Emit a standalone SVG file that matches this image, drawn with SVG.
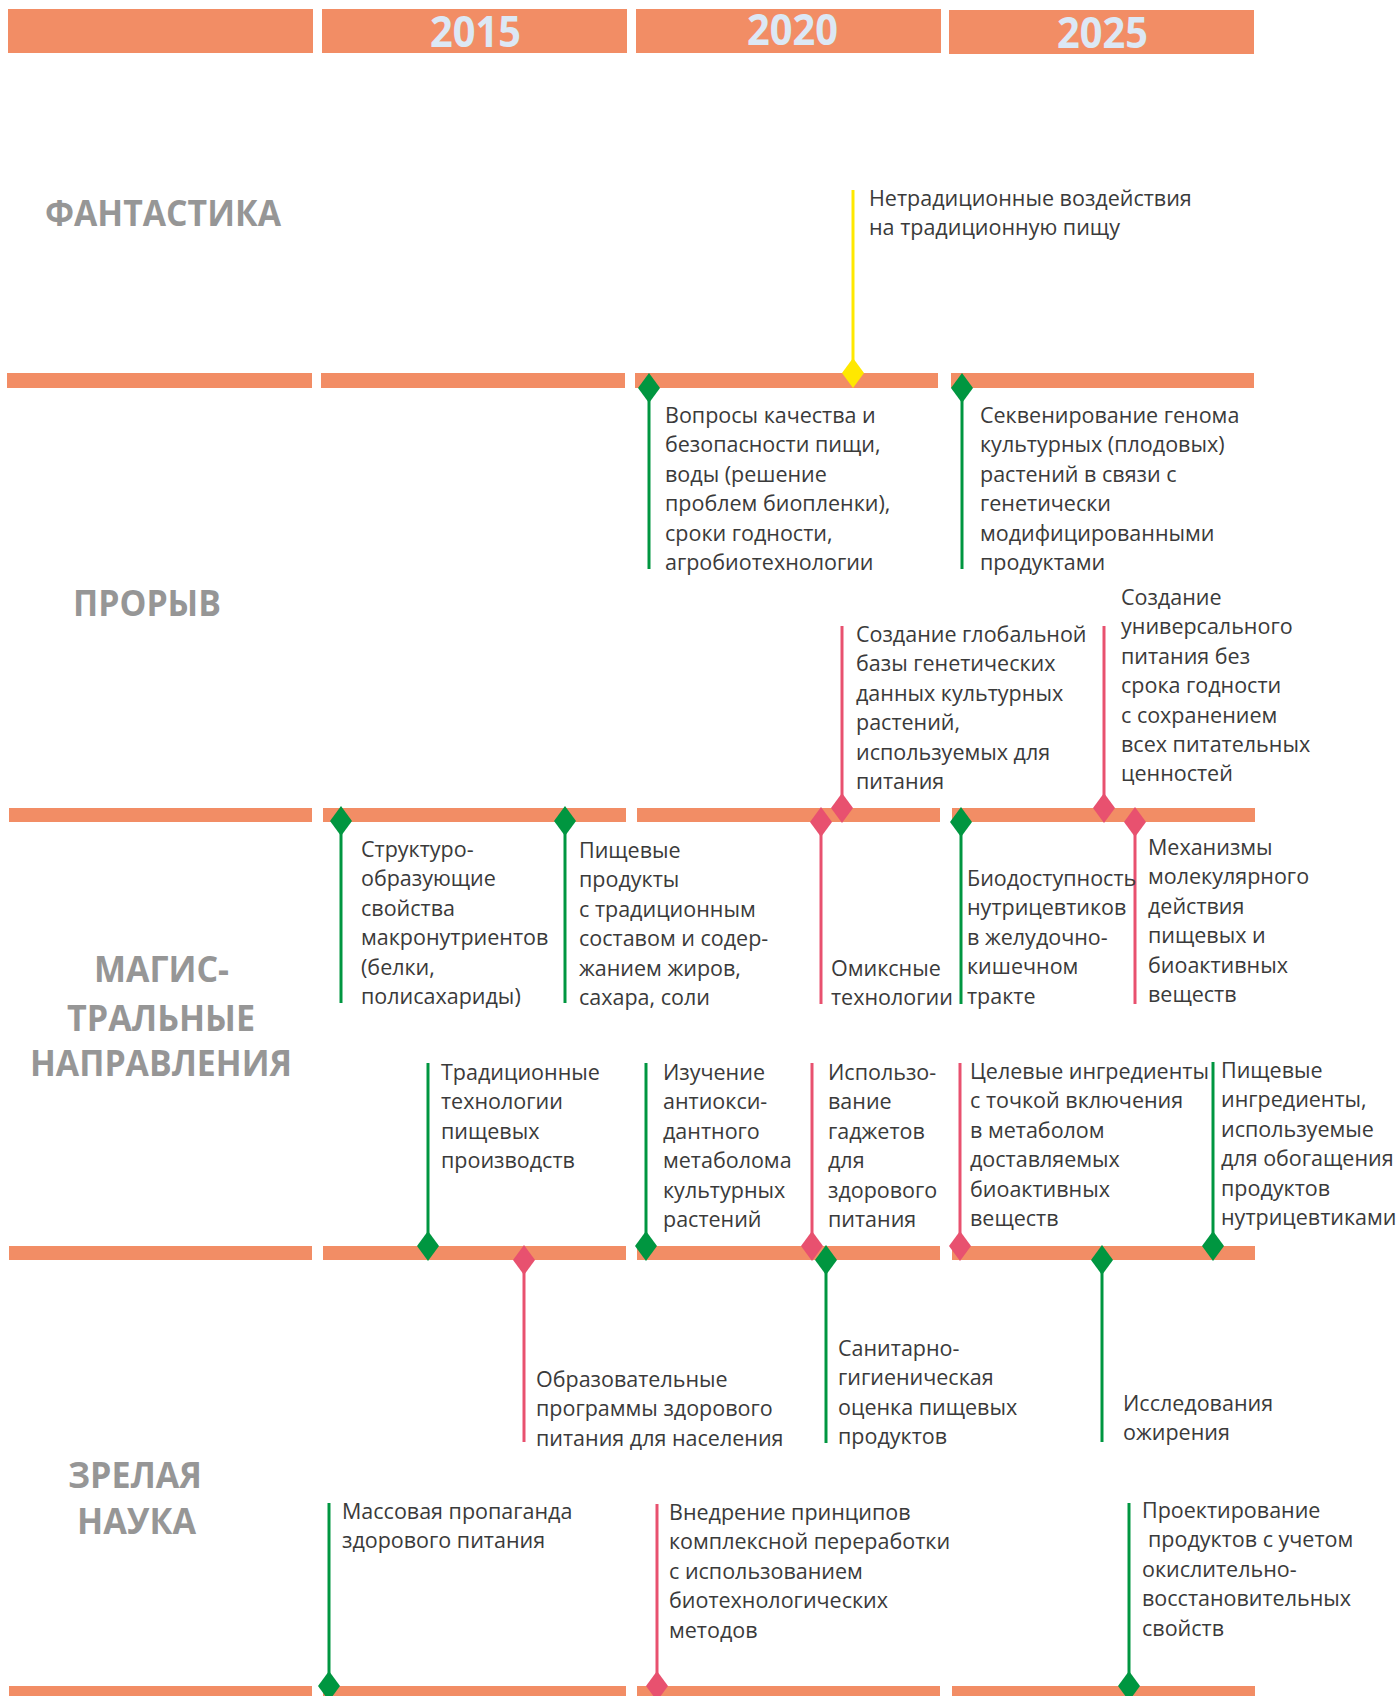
<svg xmlns="http://www.w3.org/2000/svg" width="1398" height="1696" viewBox="0 0 1398 1696">
<style>
.bar{fill:#F28D65}
.yr{font-family:"Open Sans","Liberation Sans",sans-serif;font-weight:700;font-size:43px;fill:#DCE8F5}
.row{font-family:"Open Sans","Liberation Sans",sans-serif;font-weight:700;font-size:36px;fill:#969696}
.t{font-family:"Open Sans","Liberation Sans",sans-serif;font-size:21.5px;fill:#3A3A3A}
.g{stroke:#009640;stroke-width:3;fill:none}
.p{stroke:#E8516F;stroke-width:3;fill:none}
.y{stroke:#FFE800;stroke-width:3;fill:none}
</style>
<defs>
<marker id="dg" markerUnits="userSpaceOnUse" markerWidth="24" markerHeight="32" refX="12" refY="16" orient="0" viewBox="0 0 24 32"><path d="M12,1 L23,16 L12,31 L1,16 Z" fill="#009640"/></marker>
<marker id="dp" markerUnits="userSpaceOnUse" markerWidth="24" markerHeight="32" refX="12" refY="16" orient="0" viewBox="0 0 24 32"><path d="M12,1 L23,16 L12,31 L1,16 Z" fill="#E8516F"/></marker>
<marker id="dy" markerUnits="userSpaceOnUse" markerWidth="24" markerHeight="32" refX="12" refY="16" orient="0" viewBox="0 0 24 32"><path d="M12,1 L23,16 L12,31 L1,16 Z" fill="#FFE800"/></marker>
</defs>
<rect width="1398" height="1696" fill="#FFFFFF"/>
<g id="header">
<rect class="bar" x="8" y="9" width="305" height="44"/>
<rect class="bar" x="322" y="9" width="305" height="44"/>
<rect class="bar" x="636" y="9" width="305" height="44"/>
<rect class="bar" x="949" y="10" width="305" height="44"/>
<text class="yr" x="430" y="47" textLength="91" lengthAdjust="spacingAndGlyphs">2015</text>
<text class="yr" x="747" y="45" textLength="91" lengthAdjust="spacingAndGlyphs">2020</text>
<text class="yr" x="1057" y="48" textLength="91" lengthAdjust="spacingAndGlyphs">2025</text>
</g>
<g id="timelines">
<rect class="bar" x="7" y="373" width="305" height="15"/>
<rect class="bar" x="321" y="373" width="304" height="15"/>
<rect class="bar" x="635" y="373" width="303" height="15"/>
<rect class="bar" x="951" y="373" width="303" height="15"/>
<rect class="bar" x="9" y="808" width="303" height="14"/>
<rect class="bar" x="323" y="808" width="303" height="14"/>
<rect class="bar" x="637" y="808" width="303" height="14"/>
<rect class="bar" x="952" y="808" width="303" height="14"/>
<rect class="bar" x="9" y="1246" width="303" height="14"/>
<rect class="bar" x="323" y="1246" width="303" height="14"/>
<rect class="bar" x="637" y="1246" width="303" height="14"/>
<rect class="bar" x="952" y="1246" width="303" height="14"/>
<rect class="bar" x="9" y="1686" width="303" height="14"/>
<rect class="bar" x="323" y="1686" width="303" height="14"/>
<rect class="bar" x="637" y="1686" width="303" height="14"/>
<rect class="bar" x="952" y="1686" width="303" height="14"/>
</g>
<g id="row-labels">
<text class="row" x="45" y="226" textLength="236" lengthAdjust="spacingAndGlyphs">ФАНТАСТИКА</text>
<text class="row" x="73" y="616" textLength="148" lengthAdjust="spacingAndGlyphs">ПРОРЫВ</text>
<text class="row" x="94" y="982" textLength="135" lengthAdjust="spacingAndGlyphs">МАГИС-</text>
<text class="row" x="67" y="1031" textLength="188" lengthAdjust="spacingAndGlyphs">ТРАЛЬНЫЕ</text>
<text class="row" x="30" y="1076" textLength="262" lengthAdjust="spacingAndGlyphs">НАПРАВЛЕНИЯ</text>
<text class="row" x="68" y="1488" textLength="134" lengthAdjust="spacingAndGlyphs">ЗРЕЛАЯ</text>
<text class="row" x="77" y="1534" textLength="119" lengthAdjust="spacingAndGlyphs">НАУКА</text>
</g>
<g id="connectors">
<line class="y" x1="853" y1="190" x2="853" y2="373" marker-end="url(#dy)"/>
<line class="g" x1="649" y1="388" x2="649" y2="569" marker-start="url(#dg)"/>
<line class="g" x1="962" y1="388" x2="962" y2="569" marker-start="url(#dg)"/>
<line class="p" x1="842" y1="626" x2="842" y2="808" marker-end="url(#dp)"/>
<line class="p" x1="1104" y1="626" x2="1104" y2="808" marker-end="url(#dp)"/>
<line class="g" x1="341" y1="821" x2="341" y2="1003" marker-start="url(#dg)"/>
<line class="g" x1="565" y1="821" x2="565" y2="1003" marker-start="url(#dg)"/>
<line class="p" x1="821" y1="822" x2="821" y2="1004" marker-start="url(#dp)"/>
<line class="g" x1="961" y1="822" x2="961" y2="1004" marker-start="url(#dg)"/>
<line class="p" x1="1135" y1="822" x2="1135" y2="1004" marker-start="url(#dp)"/>
<line class="g" x1="428" y1="1063" x2="428" y2="1246" marker-end="url(#dg)"/>
<line class="g" x1="646" y1="1063" x2="646" y2="1246" marker-end="url(#dg)"/>
<line class="p" x1="812" y1="1063" x2="812" y2="1246" marker-end="url(#dp)"/>
<line class="p" x1="960" y1="1063" x2="960" y2="1246" marker-end="url(#dp)"/>
<line class="g" x1="1213" y1="1062" x2="1213" y2="1246" marker-end="url(#dg)"/>
<line class="p" x1="524" y1="1260" x2="524" y2="1442" marker-start="url(#dp)"/>
<line class="g" x1="826" y1="1260" x2="826" y2="1443" marker-start="url(#dg)"/>
<line class="g" x1="1102" y1="1260" x2="1102" y2="1442" marker-start="url(#dg)"/>
<line class="g" x1="329" y1="1503" x2="329" y2="1686" marker-end="url(#dg)"/>
<line class="p" x1="657" y1="1504" x2="657" y2="1686" marker-end="url(#dp)"/>
<line class="g" x1="1129" y1="1503" x2="1129" y2="1686" marker-end="url(#dg)"/>
</g>
<g id="ev-a1"><text class="t"><tspan x="869" y="206">Нетрадиционные воздействия</tspan><tspan x="869" dy="29.4">на традиционную пищу</tspan></text></g>
<g id="ev-a2"><text class="t"><tspan x="665" y="423">Вопросы качества и</tspan><tspan x="665" dy="29.4">безопасности пищи,</tspan><tspan x="665" dy="29.4">воды (решение</tspan><tspan x="665" dy="29.4">проблем биопленки),</tspan><tspan x="665" dy="29.4">сроки годности,</tspan><tspan x="665" dy="29.4">агробиотехнологии</tspan></text></g>
<g id="ev-a3"><text class="t"><tspan x="980" y="423">Секвенирование генома</tspan><tspan x="980" dy="29.4">культурных (плодовых)</tspan><tspan x="980" dy="29.4">растений в связи с</tspan><tspan x="980" dy="29.4">генетически</tspan><tspan x="980" dy="29.4">модифицированными</tspan><tspan x="980" dy="29.4">продуктами</tspan></text></g>
<g id="ev-b4"><text class="t"><tspan x="856" y="642">Создание глобальной</tspan><tspan x="856" dy="29.4">базы генетических</tspan><tspan x="856" dy="29.4">данных культурных</tspan><tspan x="856" dy="29.4">растений,</tspan><tspan x="856" dy="29.4">используемых для</tspan><tspan x="856" dy="29.4">питания</tspan></text></g>
<g id="ev-b5"><text class="t"><tspan x="1121" y="605">Создание</tspan><tspan x="1121" dy="29.4">универсального</tspan><tspan x="1121" dy="29.4">питания без</tspan><tspan x="1121" dy="29.4">срока годности</tspan><tspan x="1121" dy="29.4">с сохранением</tspan><tspan x="1121" dy="29.4">всех питательных</tspan><tspan x="1121" dy="29.4">ценностей</tspan></text></g>
<g id="ev-b6"><text class="t"><tspan x="361" y="857">Структуро-</tspan><tspan x="361" dy="29.4">образующие</tspan><tspan x="361" dy="29.4">свойства</tspan><tspan x="361" dy="29.4">макронутриентов</tspan><tspan x="361" dy="29.4">(белки,</tspan><tspan x="361" dy="29.4">полисахариды)</tspan></text></g>
<g id="ev-b7"><text class="t"><tspan x="579" y="858">Пищевые</tspan><tspan x="579" dy="29.4">продукты</tspan><tspan x="579" dy="29.4">с традиционным</tspan><tspan x="579" dy="29.4">составом и содер-</tspan><tspan x="579" dy="29.4">жанием жиров,</tspan><tspan x="579" dy="29.4">сахара, соли</tspan></text></g>
<g id="ev-b8"><text class="t"><tspan x="831" y="976">Омиксные</tspan><tspan x="831" dy="29.4">технологии</tspan></text></g>
<g id="ev-b9"><text class="t"><tspan x="967" y="886">Биодоступность</tspan><tspan x="967" dy="29.4">нутрицевтиков</tspan><tspan x="967" dy="29.4">в желудочно-</tspan><tspan x="967" dy="29.4">кишечном</tspan><tspan x="967" dy="29.4">тракте</tspan></text></g>
<g id="ev-b10"><text class="t"><tspan x="1148" y="855">Механизмы</tspan><tspan x="1148" dy="29.4">молекулярного</tspan><tspan x="1148" dy="29.4">действия</tspan><tspan x="1148" dy="29.4">пищевых и</tspan><tspan x="1148" dy="29.4">биоактивных</tspan><tspan x="1148" dy="29.4">веществ</tspan></text></g>
<g id="ev-c11"><text class="t"><tspan x="441" y="1080">Традиционные</tspan><tspan x="441" dy="29.4">технологии</tspan><tspan x="441" dy="29.4">пищевых</tspan><tspan x="441" dy="29.4">производств</tspan></text></g>
<g id="ev-c12"><text class="t"><tspan x="663" y="1080">Изучение</tspan><tspan x="663" dy="29.4">антиокси-</tspan><tspan x="663" dy="29.4">дантного</tspan><tspan x="663" dy="29.4">метаболома</tspan><tspan x="663" dy="29.4">культурных</tspan><tspan x="663" dy="29.4">растений</tspan></text></g>
<g id="ev-c13"><text class="t"><tspan x="828" y="1080">Использо-</tspan><tspan x="828" dy="29.4">вание</tspan><tspan x="828" dy="29.4">гаджетов</tspan><tspan x="828" dy="29.4">для</tspan><tspan x="828" dy="29.4">здорового</tspan><tspan x="828" dy="29.4">питания</tspan></text></g>
<g id="ev-c14"><text class="t"><tspan x="970" y="1079">Целевые ингредиенты</tspan><tspan x="970" dy="29.4">с точкой включения</tspan><tspan x="970" dy="29.4">в метаболом</tspan><tspan x="970" dy="29.4">доставляемых</tspan><tspan x="970" dy="29.4">биоактивных</tspan><tspan x="970" dy="29.4">веществ</tspan></text></g>
<g id="ev-c15"><text class="t"><tspan x="1221" y="1078">Пищевые</tspan><tspan x="1221" dy="29.4">ингредиенты,</tspan><tspan x="1221" dy="29.4">используемые</tspan><tspan x="1221" dy="29.4">для обогащения</tspan><tspan x="1221" dy="29.4">продуктов</tspan><tspan x="1221" dy="29.4">нутрицевтиками</tspan></text></g>
<g id="ev-c16"><text class="t"><tspan x="536" y="1387">Образовательные</tspan><tspan x="536" dy="29.4">программы здорового</tspan><tspan x="536" dy="29.4">питания для населения</tspan></text></g>
<g id="ev-c17"><text class="t"><tspan x="838" y="1356">Санитарно-</tspan><tspan x="838" dy="29.4">гигиеническая</tspan><tspan x="838" dy="29.4">оценка пищевых</tspan><tspan x="838" dy="29.4">продуктов</tspan></text></g>
<g id="ev-c18"><text class="t"><tspan x="1123" y="1411">Исследования</tspan><tspan x="1123" dy="29.4">ожирения</tspan></text></g>
<g id="ev-d19"><text class="t"><tspan x="342" y="1519">Массовая пропаганда</tspan><tspan x="342" dy="29.4">здорового питания</tspan></text></g>
<g id="ev-d20"><text class="t"><tspan x="669" y="1520">Внедрение принципов</tspan><tspan x="669" dy="29.4">комплексной переработки</tspan><tspan x="669" dy="29.4">с использованием</tspan><tspan x="669" dy="29.4">биотехнологических</tspan><tspan x="669" dy="29.4">методов</tspan></text></g>
<g id="ev-d21"><text class="t"><tspan x="1142" y="1518">Проектирование</tspan><tspan x="1148" dy="29.4">продуктов с учетом</tspan><tspan x="1142" dy="29.4">окислительно-</tspan><tspan x="1142" dy="29.4">восстановительных</tspan><tspan x="1142" dy="29.4">свойств</tspan></text></g>
</svg>
